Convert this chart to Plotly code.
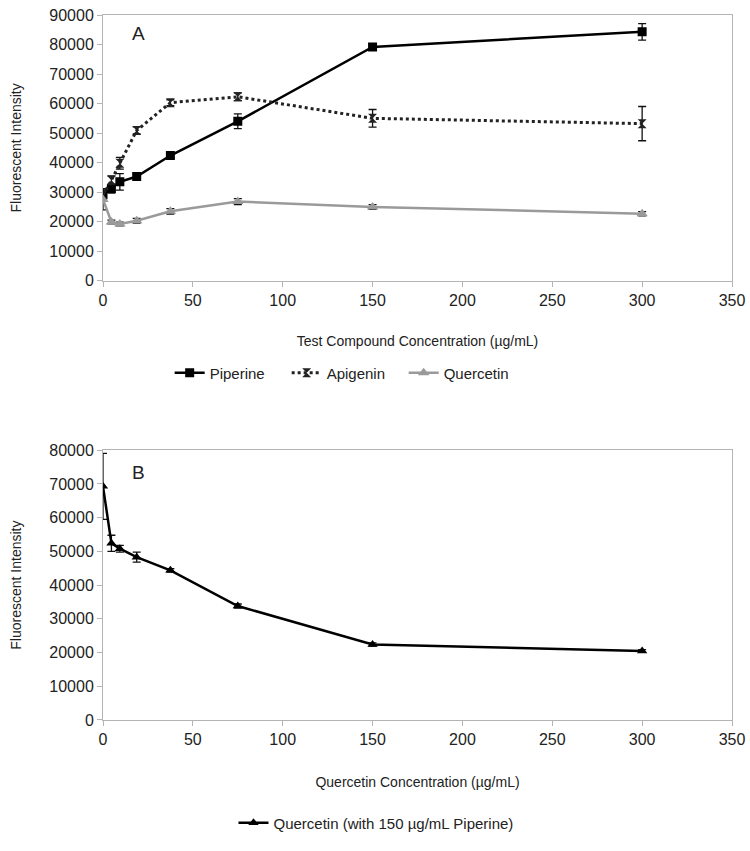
import plotly.graph_objects as go

# concentrations (ug/mL)
conc = [0, 4.6875, 9.375, 18.75, 37.5, 75, 150, 300]

# panel A
piperine = [29200, 31200, 33500, 35300, 42400, 54000, 79200, 84300]
piperine_err = [2000, 1500, 2800, 900, 800, 2500, 1000, 2800]
apigenin = [29000, 34000, 39800, 50900, 60300, 62300, 55000, 53200]
apigenin_err = [1500, 1500, 2000, 1200, 1000, 1300, 3000, 5800]
quercetin = [27500, 19900, 19200, 20300, 23500, 26800, 25000, 22700]
quercetin_err = [3500, 600, 600, 800, 900, 1000, 800, 700]

# panel B
quer_pip = [69300, 52400, 50800, 48300, 44400, 33800, 22400, 20500]
quer_pip_err = [9800, 2400, 1000, 1500, 500, 600, 500, 400]

font = "Liberation Sans, Arial, sans-serif"
axis_grey = "#b4b4b4"


def err(vals):
    return dict(type="data", array=vals, color="#111111", thickness=1.3, width=4)


fig = go.Figure()

fig.add_trace(go.Scatter(
    x=conc, y=piperine, name="Piperine", mode="lines+markers",
    line=dict(color="black", width=2.5),
    marker=dict(symbol="square", size=9, color="black"),
    error_y=err(piperine_err), xaxis="x", yaxis="y", legend="legend",
))
fig.add_trace(go.Scatter(
    x=conc, y=apigenin, name="Apigenin", mode="lines+markers",
    line=dict(color="#222222", width=3, dash="dot"),
    marker=dict(symbol="hourglass", size=9, color="#222222"),
    error_y=err(apigenin_err), xaxis="x", yaxis="y", legend="legend",
))
fig.add_trace(go.Scatter(
    x=conc, y=quercetin, name="Quercetin", mode="lines+markers",
    line=dict(color="#9a9a9a", width=2.5),
    marker=dict(symbol="triangle-up", size=10, color="#9a9a9a"),
    error_y=err(quercetin_err), xaxis="x", yaxis="y", legend="legend",
))
fig.add_trace(go.Scatter(
    x=conc, y=quer_pip, name="Quercetin (with 150 \u00b5g/mL Piperine)",
    mode="lines+markers",
    line=dict(color="black", width=2.5),
    marker=dict(symbol="triangle-up", size=9, color="black"),
    error_y=err(quer_pip_err), xaxis="x2", yaxis="y2", legend="legend2",
))

xcommon = dict(
    range=[0, 350], tickvals=list(range(0, 351, 50)),
    showline=True, linecolor=axis_grey, linewidth=1, mirror=True,
    ticks="outside", tickcolor=axis_grey, ticklen=5,
    showgrid=False, zeroline=False, automargin=False,
    ticklabeloverflow="allow",
    tickfont=dict(size=16, color="#222222"),
)
ycommon = dict(
    showline=True, linecolor=axis_grey, linewidth=1, mirror=True,
    ticks="outside", tickcolor=axis_grey, ticklen=5,
    showgrid=False, zeroline=False, automargin=False,
    ticklabeloverflow="allow",
    tickformat="d",
    tickfont=dict(size=16, color="#222222"),
    title=dict(text="Fluorescent Intensity", font=dict(size=14, color="#222222"),
               standoff=24),
)

fig.update_layout(
    width=750, height=851,
    margin=dict(l=103, r=18, t=15, b=125),
    paper_bgcolor="white", plot_bgcolor="white",
    font=dict(family=font, color="#222222"),
    xaxis=dict(xcommon, domain=[0, 1], anchor="y",
               title=dict(text="Test Compound Concentration (\u00b5g/mL)",
                          font=dict(size=14), standoff=28)),
    yaxis=dict(ycommon, domain=[0.6231, 1], anchor="x", range=[0, 90000],
               tickvals=list(range(0, 90001, 10000))),
    xaxis2=dict(xcommon, domain=[0, 1], anchor="y2",
                title=dict(text="Quercetin Concentration (\u00b5g/mL)",
                           font=dict(size=14), standoff=29)),
    yaxis2=dict(ycommon, domain=[0, 0.3826], anchor="x2", range=[0, 80000],
                tickvals=list(range(0, 80001, 10000))),
    legend=dict(orientation="h", x=0.385, xanchor="center", y=0.4923,
                yanchor="middle", font=dict(size=15), bgcolor="rgba(0,0,0,0)",
                entrywidth=72),
    legend2=dict(orientation="h", x=0.434, xanchor="center", y=-0.146,
                 yanchor="middle", font=dict(size=15), bgcolor="rgba(0,0,0,0)"),
    annotations=[
        dict(text="A", x=0.043, y=0.992, xref="paper", yref="paper",
             showarrow=False, font=dict(size=19, color="#222222")),
        dict(text="B", x=0.043, y=0.3506, xref="paper", yref="paper",
             showarrow=False, font=dict(size=19, color="#222222")),
    ],
)

# drop the default 8px body margin so the figure fills the window exactly
fig.write_html("out.html", config={"displayModeBar": False},
               post_script="document.body.style.margin='0';")
